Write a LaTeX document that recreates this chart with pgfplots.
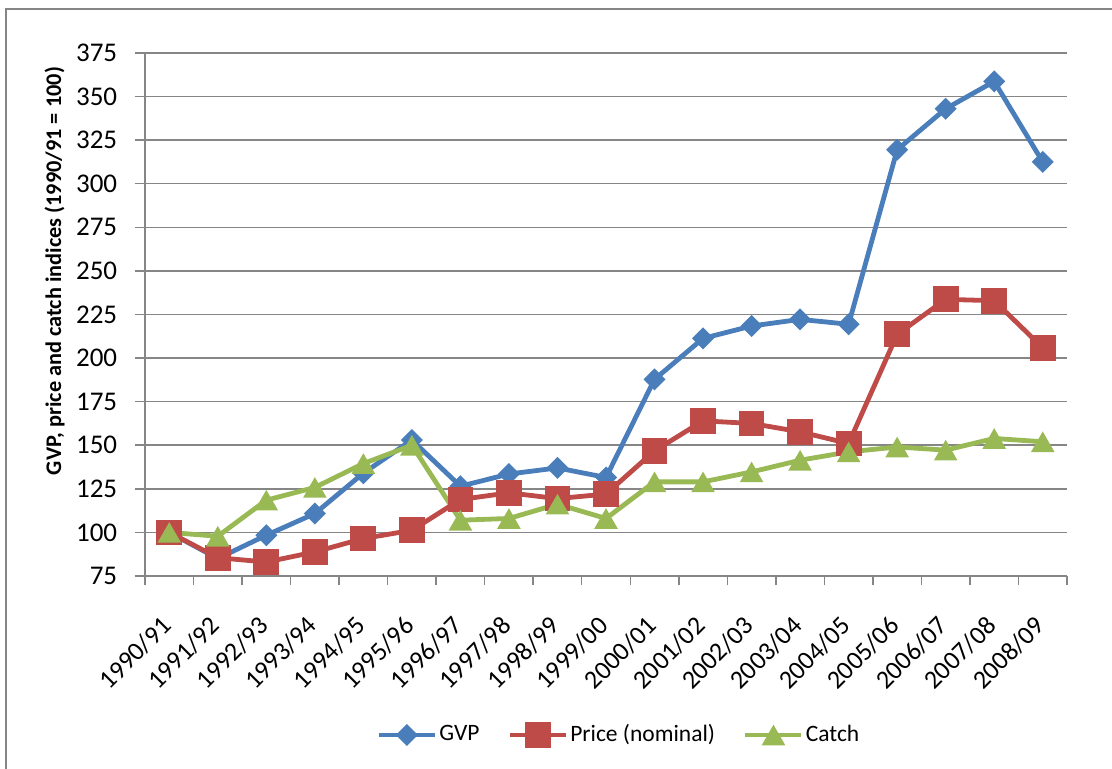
\documentclass[border=0pt]{standalone}
\usepackage{pgfplots}
\pgfplotsset{compat=1.18}
\usepackage{fontspec}
\setmainfont{Carlito}
\definecolor{gvp}{HTML}{4A7EBB}
\definecolor{price}{HTML}{BE4B48}
\definecolor{catch}{HTML}{98B954}
\definecolor{gridc}{HTML}{868686}
\pgfdeclareplotmark{xdia}{%
  \pgfpathmoveto{\pgfqpoint{0bp}{11bp}}%
  \pgfpathlineto{\pgfqpoint{11bp}{0bp}}%
  \pgfpathlineto{\pgfqpoint{0bp}{-11bp}}%
  \pgfpathlineto{\pgfqpoint{-11bp}{0bp}}%
  \pgfpathclose\pgfusepath{fill}}
\pgfdeclareplotmark{xtri}{%
  \pgfpathmoveto{\pgfqpoint{0bp}{10.3bp}}%
  \pgfpathlineto{\pgfqpoint{11.8bp}{-10.3bp}}%
  \pgfpathlineto{\pgfqpoint{-11.8bp}{-10.3bp}}%
  \pgfpathclose\pgfusepath{fill}}
\begin{document}
\fontsize{23bp}{27bp}\selectfont
\begin{tikzpicture}
\useasboundingbox (0,0) rectangle (1112bp,769bp);
\draw[gridc, line width=2bp] (6bp,0) -- (6bp,760bp) -- (1112bp,760bp);
\begin{axis}[
  at={(145bp,193bp)}, anchor=south west,
  scale only axis, width=922bp, height=523bp,
  xmin=-0.5, xmax=18.5, ymin=75, ymax=375,
  axis lines*=left,
  axis line style={gridc, line width=1.5bp},
  ytick={75,100,...,375},
  xtick={0,...,18},
  xticklabels={1990/91,1991/92,1992/93,1993/94,1994/95,1995/96,1996/97,1997/98,1998/99,1999/00,2000/01,2001/02,2002/03,2003/04,2004/05,2005/06,2006/07,2007/08,2008/09},
  minor xtick={-0.5,0.5,...,18.5},
  major x tick style={draw=none},
  minor x tick style={gridc, line width=1.5bp},
  y tick style={gridc, line width=1.5bp},
  tick align=outside,
  major tick length=10bp, minor tick length=9bp,
  ymajorgrids, major grid style={gridc, line width=1.5bp},
  xticklabel style={font=\fontsize{26bp}{30bp}\selectfont, anchor=east, xshift=3bp, yshift=-30bp, rotate=45},
  yticklabel style={font=\fontsize{27bp}{31bp}\selectfont, xshift=-10bp},
  /pgf/number format/assume math mode=true,
  ylabel={\bfseries GVP, price and catch indices (1990/91 = 100)},
  ylabel style={at={(rel axis cs:-0.098,0.583)}, anchor=center, font=\fontsize{22.3bp}{26bp}\selectfont},
  legend columns=3,
  legend style={at={(rel axis cs:0.514,-0.304)}, anchor=center, draw=none, fill=none,
    font=\fontsize{23.5bp}{28bp}\selectfont,
    /tikz/every even column/.append style={column sep=26bp}},
  legend cell align=left,
  legend image code/.code={\draw[mark repeat=2,mark phase=2] plot coordinates {(0bp,0bp)(28bp,0bp)(56bp,0bp)};},
  clip=false,
]
\addplot[gvp, line width=4.8bp, mark=xdia, mark options={solid}] coordinates {
(0,100)(1,85)(2,98.4)(3,110.8)(4,134)(5,153)(6,126.5)(7,133.5)(8,137)(9,131.5)
(10,187.8)(11,211.3)(12,218.4)(13,222.2)(14,219.4)(15,319.5)(16,343)(17,358.7)(18,312.5)};
\addlegendentry{GVP}
\addplot[price, line width=4.8bp, mark=square*, mark size=10.5bp, mark options={solid}] coordinates {
(0,100)(1,85.5)(2,83)(3,88.8)(4,96.5)(5,101.2)(6,118.9)(7,122.7)(8,119.4)(9,122)
(10,146.8)(11,164)(12,162.5)(13,157.7)(14,151)(15,213.6)(16,233.7)(17,232.9)(18,205.9)};
\addlegendentry{Price (nominal)}
\addplot[catch, line width=4.8bp, mark=xtri, mark options={solid}] coordinates {
(0,100)(1,97.8)(2,118.5)(3,125.8)(4,139.5)(5,150)(6,107)(7,108)(8,116.2)(9,108)
(10,129)(11,129)(12,134.7)(13,141.4)(14,146.2)(15,149)(16,147.2)(17,153.9)(18,152)};
\addlegendentry{Catch}
\end{axis}
\end{tikzpicture}
\end{document}
